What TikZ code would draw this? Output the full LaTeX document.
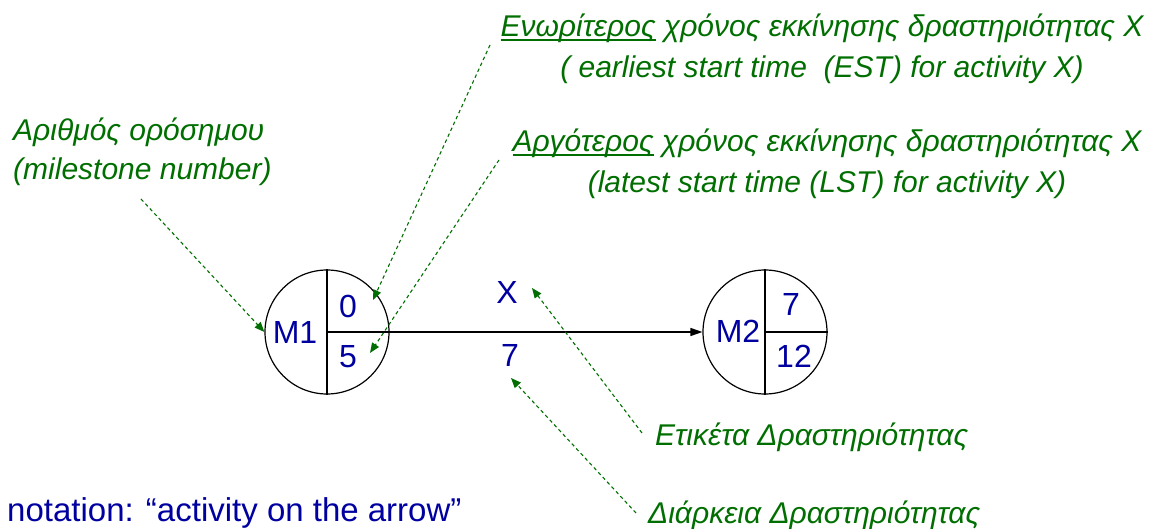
\documentclass[tikz,border=0pt]{standalone}
\usepackage{fontspec}
\setmainfont{Liberation Sans}
\usepackage{tikz}
\usetikzlibrary{arrows.meta,positioning,calc}

\definecolor{notegreen}{RGB}{0,110,0}
\definecolor{nodeblue}{RGB}{0,0,160}
% underline drawn just under the baseline
\newcommand{\ulword}[1]{\setbox0\hbox{#1}\rlap{\rule[-4pt]{\wd0}{1.5pt}}\box0\relax}

\begin{document}
\begin{tikzpicture}[
    x=1pt, y=-1pt,
    % --- STYLES ---
    milestone/.style={
        circle, draw=black, line width=1.2pt,
        minimum size=124pt, inner sep=0pt
    },
    value/.style={text=nodeblue, font=\fontsize{32}{38}\selectfont, inner sep=0pt},
    remark/.style={text=notegreen, font=\fontsize{30}{36}\selectfont\itshape, inner sep=0pt},
    divider/.style={line width=1.2pt},
    flow/.style={-{Triangle[length=12pt, width=8pt]}, line width=1.2pt},
    pointer/.style={
        -{Triangle[length=10pt, width=8pt]}, draw=notegreen,
        line width=1.1pt, dash pattern=on 3.5pt off 3pt
    }
]
\useasboundingbox (0,0) rectangle (1157,529);

% ===== 1. MILESTONES =====
\def\yArrow{332}

\node[milestone] (m1) at (327,\yArrow) {};
\node[milestone] (m2) at (765,\yArrow) {};

\draw[divider] (m1.north) -- (m1.south);
\draw[divider] (m1.center) -- (m1.east);
\draw[divider] (m2.north) -- (m2.south);
\draw[divider] (m2.center) -- (m2.east);

\node[value] (m1id) at (295,332) {M1};
\node[value] (m1est) at (348,306) {0};
\node[value] (m1lst) at (348,357) {5};

\node[value] (m2id) at (738,331) {M2};
\node[value] (m2est) at (791,304) {7};
\node[value] (m2lst) at (794,356) {12};

% ===== 2. ACTIVITY ON THE ARROW =====
\draw[flow] (m1.east) -- (m2.west);
\node[value] (actname) at (507,292) {X};
\node[value] (actdur) at (510,355) {7};

\node[value, font=\fontsize{33}{38}\selectfont, anchor=base west] (notation) at (7,521) {notation: “activity on the arrow”};

% ===== 3. REMARKS =====
\node[remark, anchor=base west] (numtxt1) at (13,141) {Αριθμός ορόσημου};
\node[remark, anchor=base west] (numtxt2) at (13,180) {(milestone number)};

\node[remark, anchor=base] (esttxt1) at (822,37) {\ulword{Ενωρίτερος} χρόνος εκκίνησης δραστηριότητας X};
\node[remark, anchor=base] (esttxt2) at (822,78) {( earliest start time\ \ (EST) for activity X)};

\node[remark, anchor=base] (lsttxt1) at (827,152) {\ulword{Αργότερος} χρόνος εκκίνησης δραστηριότητας X};
\node[remark, anchor=base] (lsttxt2) at (827,193) {(latest start time (LST) for activity X)};

\node[remark, anchor=base west] (labtxt) at (655,445) {Ετικέτα Δραστηριότητας};
\node[remark, anchor=base west] (durtxt) at (648,523) {Διάρκεια Δραστηριότητας};

% ===== 4. POINTERS =====
\coordinate (numfrom) at (141,199);
\coordinate (estfrom) at (490,45);
\coordinate (estto) at (373,300);
\coordinate (lstfrom) at (499,160);
\coordinate (lstto) at (370,353);
\coordinate (labfrom) at (642,433);
\coordinate (labto) at (532,288);
\coordinate (durfrom) at (636,513);
\coordinate (durto) at (511,378);

\draw[pointer] (numfrom) -- (m1.west);
\draw[pointer] (estfrom) -- (estto);
\draw[pointer] (lstfrom) -- (lstto);
\draw[pointer] (labfrom) -- (labto);
\draw[pointer] (durfrom) -- (durto);

\end{tikzpicture}
\end{document}
